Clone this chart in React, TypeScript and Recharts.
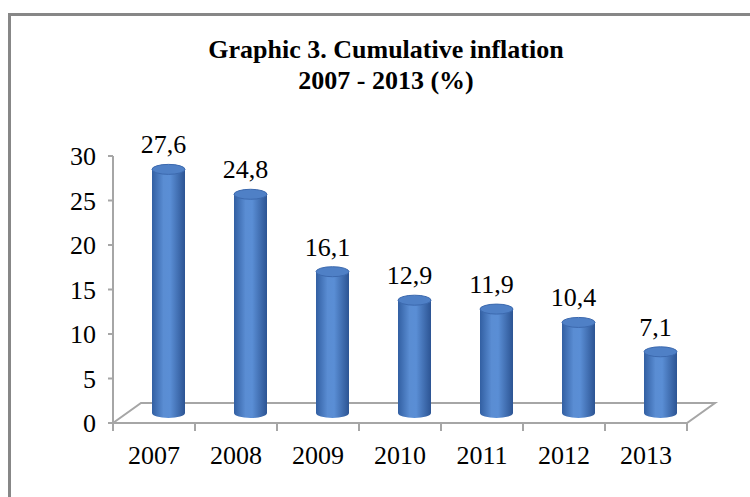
import { BarChart, Bar, XAxis, YAxis, LabelList } from 'recharts'

const years = ['2007', '2008', '2009', '2010', '2011', '2012', '2013']
const inflation = [27.6, 24.8, 16.1, 12.9, 11.9, 10.4, 7.1]
const yTicks = [0, 5, 10, 15, 20, 25, 30]

const data = years.map((year, i) => ({ year, value: inflation[i] }))

const W = 750
const H = 497
const PLOT_LEFT = 113
const PLOT_RIGHT = 687
const PLOT_TOP = 156
const PLOT_BOTTOM = 423
const DEPTH_X = 28
const DEPTH_Y = -20
const FONT = "'Liberation Serif', 'Times New Roman', Tinos, serif"
const AXIS = '#a6a6a6'
const serif = { fontFamily: FONT }

const Cylinder = (props: any) => {
  const { x, y, width, height, index } = props
  const rx = width / 2
  const ry = 5
  const cx = x + rx + DEPTH_X / 2
  const top = y + DEPTH_Y / 2 + 2
  const bottom = y + height + DEPTH_Y / 2
  const l = cx - rx
  const r = cx + rx
  const id = `cyl${index}`
  return (
    <g>
      <defs>
        <linearGradient id={id} x1="0" y1="0" x2="1" y2="0">
          <stop offset="0" stopColor="#325fa2" />
          <stop offset="0.35" stopColor="#5a8dd3" />
          <stop offset="0.55" stopColor="#5a8ed5" />
          <stop offset="1" stopColor="#2c5493" />
        </linearGradient>
      </defs>
      <path
        d={`M${l},${top} L${l},${bottom} A${rx},${ry} 0 0 0 ${r},${bottom} L${r},${top} Z`}
        fill={`url(#${id})`}
      />
      <ellipse cx={cx} cy={top} rx={rx} ry={ry} fill="#4f80c6" stroke="#3c69ae" strokeWidth={1} />
    </g>
  )
}

const ValueLabel = (props: any) => {
  const { x, y, width, value } = props
  const cx = x + width / 2 + DEPTH_X / 2 - 5
  const top = y + DEPTH_Y / 2 + 2 - 5
  return (
    <text x={cx} y={top - 11} textAnchor="middle" style={serif} fontSize={26} fill="#000">
      {String(value).replace('.', ',')}
    </text>
  )
}

const YearTick = (props: any) => {
  const { x, y, payload } = props
  return (
    <text x={x} y={y} dy={33} textAnchor="middle" style={serif} fontSize={26} fill="#000">
      {payload.value}
    </text>
  )
}

const ValueTick = (props: any) => {
  const { x, y, payload } = props
  return (
    <text x={x} y={y} dy={9} textAnchor="end" style={serif} fontSize={26} fill="#000">
      {payload.value}
    </text>
  )
}

function Backdrop() {
  const band = (PLOT_RIGHT - PLOT_LEFT) / years.length
  const bounds = Array.from({ length: years.length + 1 }, (_, i) => PLOT_LEFT + i * band)
  return (
    <svg width={W} height={H} style={{ position: 'absolute', left: 0, top: 0 }}>
      <rect x={9.5} y={14.5} width={800} height={600} fill="#fff" stroke="#878787" strokeWidth={3} />
      <text x={386} y={58} textAnchor="middle" style={serif} fontWeight="bold" fontSize={26} fill="#000">
        Graphic 3. Cumulative inflation
      </text>
      <text x={386} y={89} textAnchor="middle" style={serif} fontWeight="bold" fontSize={26} fill="#000">
        2007 - 2013 (%)
      </text>
      <polygon
        points={`${PLOT_LEFT},${PLOT_BOTTOM} ${PLOT_LEFT + DEPTH_X},${PLOT_BOTTOM + DEPTH_Y} ${PLOT_RIGHT + DEPTH_X},${PLOT_BOTTOM + DEPTH_Y} ${PLOT_RIGHT},${PLOT_BOTTOM}`}
        fill="none"
        stroke={AXIS}
        strokeWidth={2}
      />
      {bounds.map((bx) => (
        <line key={bx} x1={bx} y1={PLOT_BOTTOM} x2={bx} y2={PLOT_BOTTOM + 8} stroke={AXIS} strokeWidth={2} />
      ))}
    </svg>
  )
}

export default function App() {
  return (
    <div style={{ position: 'absolute', left: 0, top: 0, width: W, height: H, background: '#fff' }}>
      <Backdrop />
      <div style={{ position: 'absolute', left: 0, top: 0 }}>
        <BarChart
          width={W}
          height={H}
          data={data}
          margin={{ top: PLOT_TOP, right: W - PLOT_RIGHT, bottom: H - PLOT_BOTTOM - 30, left: 0 }}
          barSize={33}
        >
          <XAxis
            dataKey="year"
            height={30}
            axisLine={{ stroke: AXIS, strokeWidth: 2 }}
            tickLine={false}
            tick={<YearTick />}
            interval={0}
          />
          <YAxis
            width={PLOT_LEFT}
            domain={[0, 30]}
            ticks={yTicks}
            interval={0}
            axisLine={{ stroke: AXIS, strokeWidth: 2 }}
            tickLine={{ stroke: AXIS, strokeWidth: 2 }}
            tickSize={5}
            tickMargin={12}
            tick={<ValueTick />}
          />
          <Bar dataKey="value" shape={<Cylinder />} isAnimationActive={false}>
            <LabelList dataKey="value" content={<ValueLabel />} />
          </Bar>
        </BarChart>
      </div>
    </div>
  )
}
